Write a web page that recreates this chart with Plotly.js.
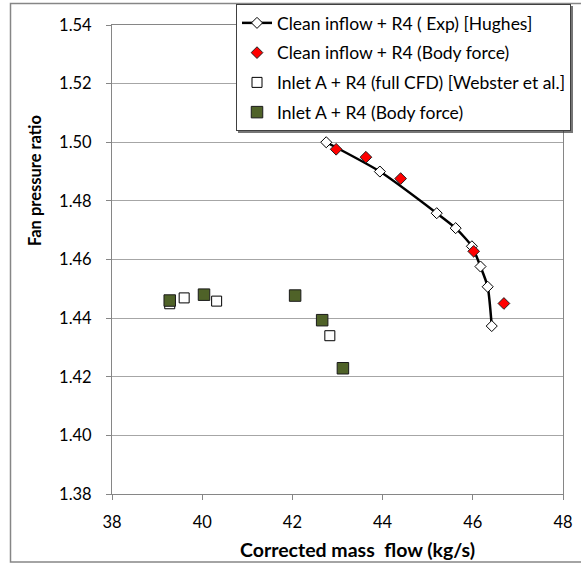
<!DOCTYPE html>
<html><head><meta charset="utf-8">
<script src="https://cdn.plot.ly/plotly-3.0.1.min.js"></script>
<style>html,body{margin:0;padding:0;background:#fff}#chart{width:581px;height:564px}</style>
</head><body><div id="chart"></div>
<script>
var expX = [42.75, 43.94, 45.20, 45.62, 45.98, 46.17, 46.33, 46.42];
var expY = [1.500, 1.490, 1.4758, 1.4707, 1.4645, 1.4576, 1.4507, 1.4373];
var bfCleanX = [42.97, 43.63, 44.40, 46.02, 46.69];
var bfCleanY = [1.4976, 1.4949, 1.4876, 1.4628, 1.4450];
var cfdX = [39.28, 39.60, 40.32, 42.83];
var cfdY = [1.4449, 1.4469, 1.4458, 1.4340];
var bfInletX = [39.28, 40.04, 42.06, 42.66, 43.12];
var bfInletY = [1.4460, 1.4480, 1.4477, 1.4393, 1.4229];
var names = ["Clean inflow + R4 ( Exp) [Hughes]", "Clean inflow + R4 (Body force)",
             "Inlet A + R4 (full CFD) [Webster et al.]", "Inlet A + R4 (Body force)"];
var xTicks = [38, 40, 42, 44, 46, 48];
var yTicks = [1.38, 1.40, 1.42, 1.44, 1.46, 1.48, 1.50, 1.52, 1.54];

var FONT = "Lato, 'Open Sans', sans-serif";
var traces = [
  {x: expX, y: expY, name: names[0], mode: "lines+markers", legendgroup: "a",
   line: {color: "#000", width: 2.5, shape: "spline", smoothing: 0.6},
   marker: {symbol: "diamond", size: 8.5, color: "#fff", line: {color: "#000", width: 1}}},
  {x: bfCleanX, y: bfCleanY, name: names[1], mode: "markers", legendgroup: "b",
   marker: {symbol: "diamond", size: 9, color: "#ff0000", line: {color: "#222", width: 1}}},
  {x: cfdX, y: cfdY, name: names[2], mode: "markers", legendgroup: "c",
   marker: {symbol: "square", size: 10, color: "#fff", line: {color: "#000", width: 1}}},
  {x: bfInletX, y: bfInletY, name: names[3], mode: "markers", legendgroup: "d",
   marker: {symbol: "square", size: 11.5, color: "#4f6228", line: {color: "#1a1a1a", width: 1}}}
];
var L = 112, R = 18, T = 25, B = 70;
var W = 581, H = 564, pw = W - L - R, ph = H - T - B;
function px(v){return (v - L)/pw;}
function py(v){return 1 - (v - T)/ph;}
var layout = {
  width: W, height: H,
  margin: {l: L, r: R, t: T, b: B, pad: 0, autoexpand: false},
  paper_bgcolor: "#fff", plot_bgcolor: "#fff",
  font: {family: FONT, size: 16.5, color: "#000"},
  showlegend: true,
  legend: {xref: "container", yref: "container", x: 236/W, y: 1 - 4/H, xanchor: "left", yanchor: "top",
    bgcolor: "#fff", bordercolor: "#404040", borderwidth: 1,
    tracegroupgap: 4, font: {family: FONT, size: 17.5, color: "#000"}},
  xaxis: {range: [38, 48], tickvals: xTicks, ticktext: xTicks.map(String),
    showgrid: false, zeroline: false, showline: true, mirror: true,
    linecolor: "#868686", linewidth: 1, ticks: "outside", ticklen: 5, tickcolor: "#868686",
    ticklabelstandoff: 8, tickfont: {family: FONT, size: 16.5, color: "#000"}},
  yaxis: {range: [1.38, 1.54], tickvals: yTicks, ticktext: yTicks.map(function(v){return v.toFixed(2);}),
    showgrid: true, gridcolor: "#a6a6a6", gridwidth: 1, zeroline: false,
    showline: true, mirror: true, linecolor: "#868686", linewidth: 1,
    ticks: "outside", ticklen: 5, tickcolor: "#868686",
    ticklabelstandoff: 11, tickfont: {family: FONT, size: 16.5, color: "#000"}},
  annotations: [
    {text: "<b>Corrected mass&nbsp; flow (kg/s)</b>", xref: "paper", yref: "paper",
     x: px(357), y: py(549), xanchor: "center", yanchor: "middle", showarrow: false,
     font: {family: FONT, size: 19.5, color: "#000"}},
    {text: "<b>Fan pressure ratio</b>", xref: "paper", yref: "paper", textangle: -90,
     x: px(35), y: py(181), xanchor: "center", yanchor: "middle", showarrow: false,
     font: {family: FONT, size: 16.5, color: "#000"}}
  ],
  shapes: [
    {type: "rect", xref: "paper", yref: "paper", x0: px(10.5), x1: px(590), y0: py(562), y1: py(3.5),
     line: {color: "#868686", width: 1.5}, fillcolor: "rgba(0,0,0,0)", layer: "below"}
  ]
};
Plotly.newPlot("chart", traces, layout, {displayModeBar: false, staticPlot: true}).then(function(gd){
  var bg = gd.querySelector(".legend .bg");
  if (bg) bg.style.filter = "drop-shadow(2px 2px 0px rgba(60,60,60,0.7))";
});
</script></body></html>
